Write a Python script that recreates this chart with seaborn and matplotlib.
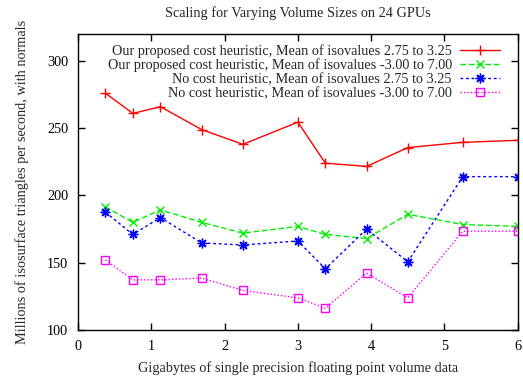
import matplotlib
matplotlib.use("Agg")
import matplotlib.pyplot as plt
import seaborn as sns
import pandas as pd

gigabytes = [0.375, 0.75, 1.125, 1.6875, 2.25, 3.0, 3.375, 3.9375, 4.5, 5.25, 6.0]
ours_narrow = [276, 261, 266, 249, 238, 254.5, 224, 221.6, 235.6, 239.5, 241]
ours_wide = [191.5, 180, 189.3, 180, 172, 177, 171, 168, 186, 178.4, 177]
none_narrow = [187.6, 171, 183.6, 164.7, 163.2, 166.2, 145.5, 175, 150.7, 214, 214]
none_wide = [152, 137.3, 137.3, 138.6, 129.4, 123.9, 116.2, 142.3, 123.9, 173.4, 173.4]

labels = [
    "Our proposed cost heuristic, Mean of isovalues 2.75 to 3.25",
    "Our proposed cost heuristic, Mean of isovalues -3.00 to 7.00",
    "No cost heuristic, Mean of isovalues 2.75 to 3.25",
    "No cost heuristic, Mean of isovalues -3.00 to 7.00",
]
series = [ours_narrow, ours_wide, none_narrow, none_wide]

sns.set_style("ticks")
plt.rcParams["font.family"] = ["Liberation Serif", "DejaVu Serif"]
FS = 10.3

fig = plt.figure(figsize=(5.23, 3.77), dpi=100)
ax = fig.add_axes([0.149, 0.1247, 0.841, 0.785])

styles = [
    dict(color="#ff0000", marker="+", dashes=None, ms=7, fc="#ff0000"),
    dict(color="#00ee00", marker="x", dashes=(4, 2), ms=5.5, fc="#00ee00"),
    dict(color="#0000ff", marker=(8, 2, 0), dashes=(2, 2), ms=7, fc="#0000ff"),
    dict(color="#ff00ff", marker="s", dashes=(1, 1.5), ms=5.5, fc="none"),
]

for vals, lab, st in zip(series, labels, styles):
    df = pd.DataFrame({"x": gigabytes, "y": vals})
    sns.lineplot(data=df, x="x", y="y", ax=ax, color=st["color"], linewidth=1.0, legend=False)
    line = ax.lines[-1]
    line.set_label(lab)
    line.set_marker(st["marker"])
    line.set_markersize(st["ms"])
    line.set_markeredgewidth(1.0)
    line.set_markeredgecolor(st["color"])
    line.set_markerfacecolor(st["fc"])
    if st["dashes"] is None:
        line.set_linestyle("-")
    else:
        line.set_linestyle((0, st["dashes"]))

ax.set_xlim(0, 6)
ax.set_ylim(100, 320)
ax.set_xticks(range(0, 7))
ax.set_yticks([100, 150, 200, 250, 300])
ax.tick_params(direction="in", length=5, width=1, top=True, right=True, labelsize=FS,
               colors="black", pad=7)
for s in ax.spines.values():
    s.set_linewidth(1.0)
    s.set_color("black")

ax.set_xlabel("Gigabytes of single precision floating point volume data", fontsize=FS, labelpad=6)
ax.set_ylabel("Millions of isosurface triangles per second, with normals", fontsize=FS, labelpad=13)
ax.set_title("Scaling for Varying Volume Sizes on 24 GPUs", fontsize=FS, pad=12)

leg = ax.legend(loc="upper right", bbox_to_anchor=(1 - 8 / 440, 1.0), frameon=False,
                markerfirst=False, fontsize=FS, handlelength=2.8, labelspacing=0.05,
                borderaxespad=0.3, handletextpad=0.55, numpoints=1)

fig.savefig("out.png", dpi=100)
